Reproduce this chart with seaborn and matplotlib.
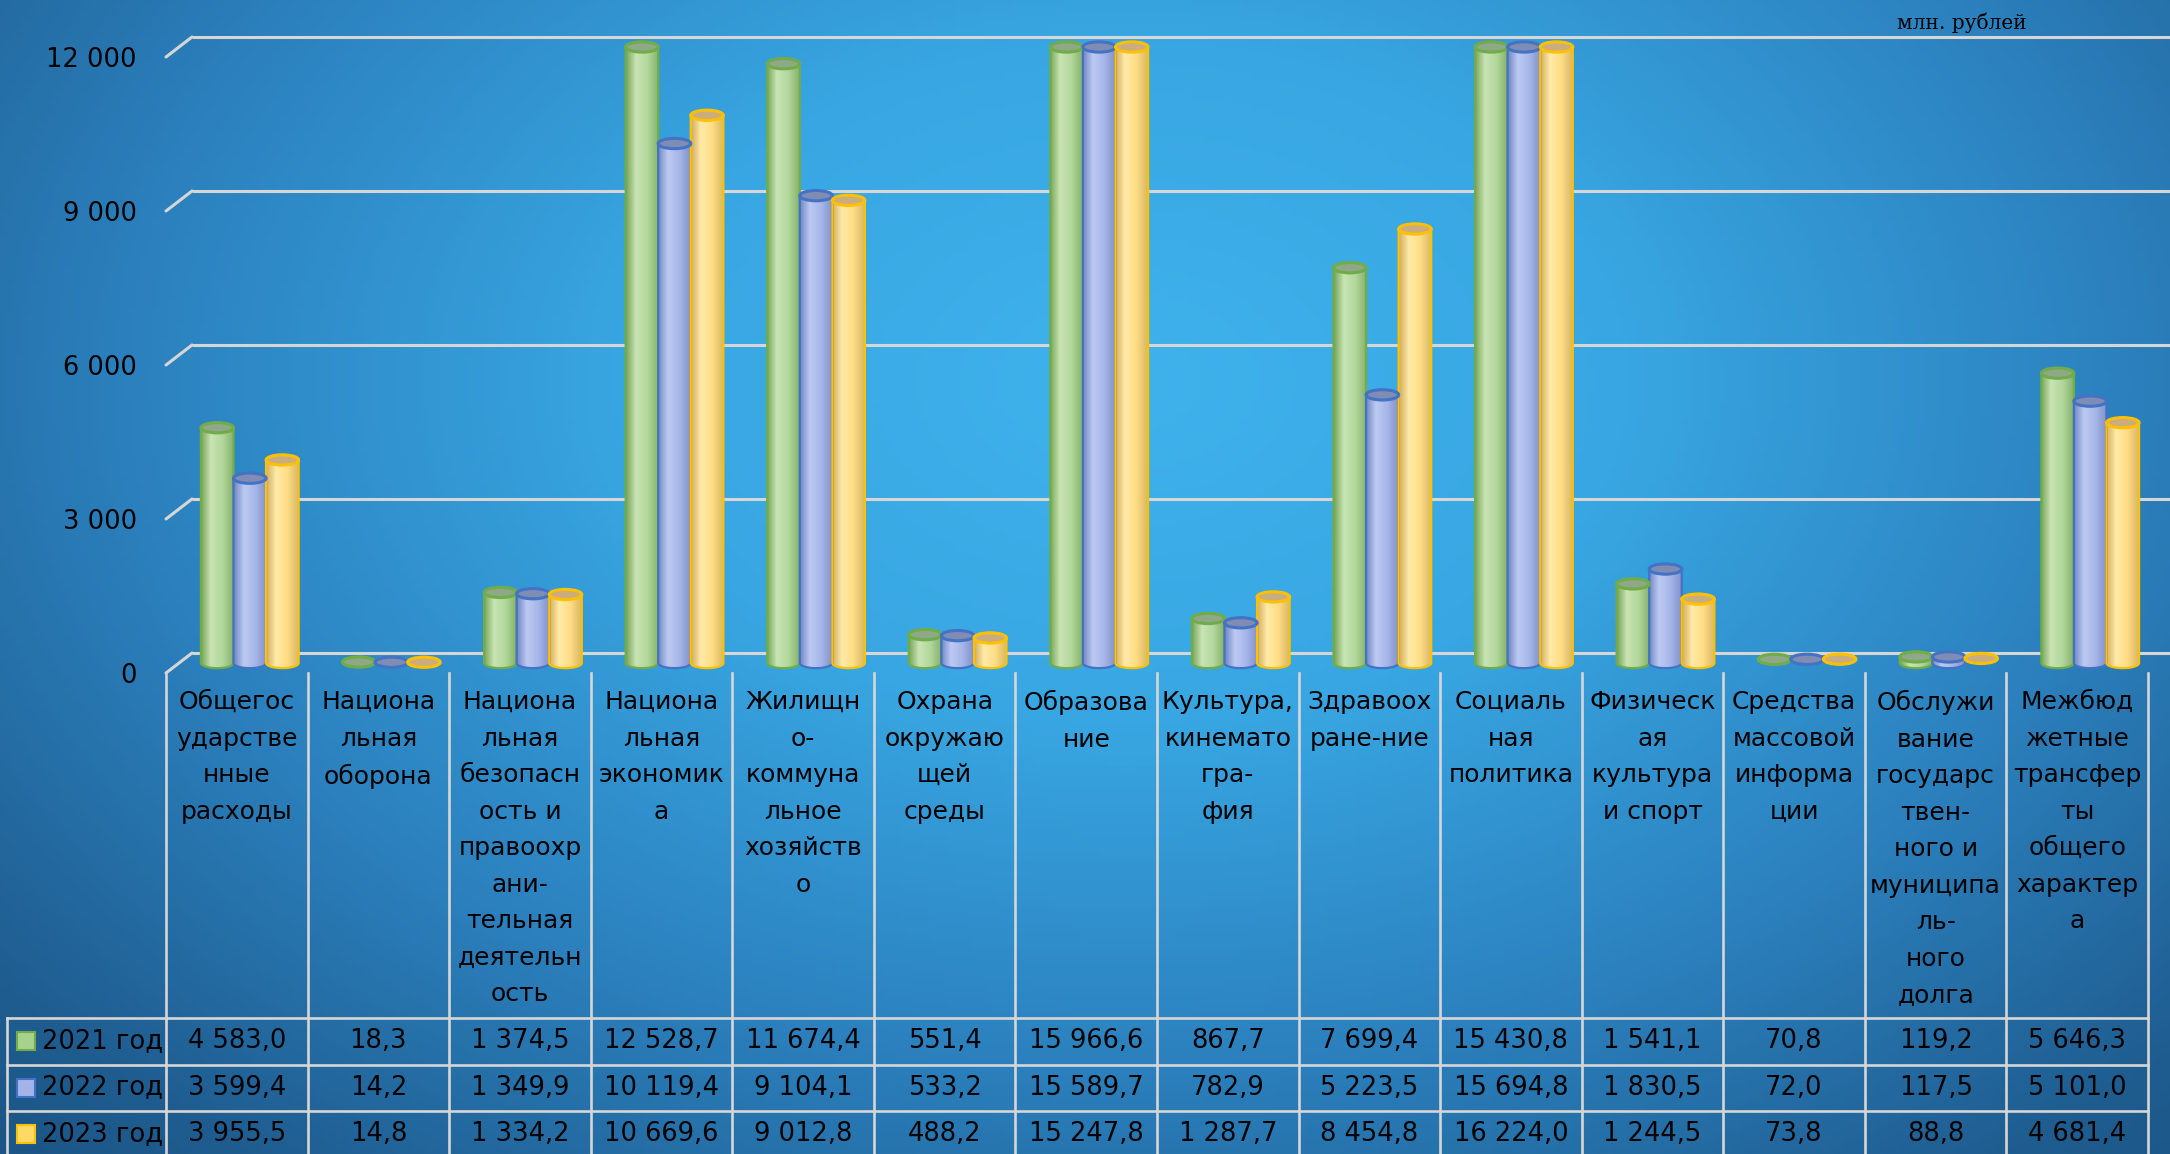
import numpy as np
import pandas as pd
import matplotlib
matplotlib.use("Agg")
import matplotlib.pyplot as plt
import seaborn as sns
from matplotlib.colors import LinearSegmentedColormap
from matplotlib.patches import Ellipse, PathPatch, ConnectionPatch, Rectangle
from matplotlib.path import Path

# ---- data (млн. рублей) ----
categories = [
    "Общегос\nударстве\nнные\nрасходы",
    "Национа\nльная\nоборона",
    "Национа\nльная\nбезопасн\nость и\nправоохр\nани-\nтельная\nдеятельн\nость",
    "Национа\nльная\nэкономик\nа",
    "Жилищн\nо-\nкоммуна\nльное\nхозяйств\nо",
    "Охрана\nокружаю\nщей\nсреды",
    "Образова\nние",
    "Культура,\nкинемато\nгра-\nфия",
    "Здравоох\nране-ние",
    "Социаль\nная\nполитика",
    "Физическ\nая\nкультура\nи спорт",
    "Средства\nмассовой\nинформа\nции",
    "Обслужи\nвание\nгосударс\nтвен-\nного и\nмуниципа\nль-\nного\nдолга",
    "Межбюд\nжетные\nтрансфер\nты\nобщего\nхарактер\nа",
]
years = ["2021 год", "2022 год", "2023 год"]
v2021 = [4583.0, 18.3, 1374.5, 12528.7, 11674.4, 551.4, 15966.6, 867.7, 7699.4, 15430.8, 1541.1, 70.8, 119.2, 5646.3]
v2022 = [3599.4, 14.2, 1349.9, 10119.4, 9104.1, 533.2, 15589.7, 782.9, 5223.5, 15694.8, 1830.5, 72.0, 117.5, 5101.0]
v2023 = [3955.5, 14.8, 1334.2, 10669.6, 9012.8, 488.2, 15247.8, 1287.7, 8454.8, 16224.0, 1244.5, 73.8, 88.8, 4681.4]
y_ticks = [0, 3000, 6000, 9000, 12000]
y_max = 12000

fills = ["#a9d18e", "#a4b4e6", "#ffd966"]
edges = ["#70ad47", "#4472c4", "#ffc000"]
tops = ["#8fa888", "#7f8db5", "#c9ad7e"]
bodies = [
    ["#7aa65c", "#c8e4b3", "#b3d79d", "#86b16a"],
    ["#7488c9", "#bccaf2", "#a6b6e8", "#8191cc"],
    ["#d2ae5e", "#ffeaa8", "#ffdd85", "#d8b766"],
]

df = pd.DataFrame({"cat": categories * 3,
                   "year": np.repeat(years, len(categories)),
                   "value": v2021 + v2022 + v2023})
df["shown"] = df["value"].clip(upper=y_max)

W, H = 2170, 1154
fig = plt.figure(figsize=(W / 100, H / 100), dpi=100)

# background: radial blue gradient
bg = fig.add_axes([0, 0, 1, 1])
gx, gy = np.meshgrid(np.linspace(0, 1, 400), np.linspace(0, 1, 220))
r = np.sqrt(((gx - 0.52) / 0.66) ** 2 + ((gy - 0.33) / 0.85) ** 2)
bg_cmap = LinearSegmentedColormap.from_list(
    "bg", [(0, "#3fb2ec"), (0.27, "#38a6e2"), (0.54, "#2b80bd"), (0.77, "#1f5d90"), (1.0, "#174a77")])
bg.imshow(np.clip(r, 0, 1.3), cmap=bg_cmap, aspect="auto", extent=(0, 1, 0, 1), vmin=0, vmax=1.3)
bg.axis("off")

ppu = 616 / 12000
YLO, YHI = -400, 12400


def plane(x_left, x_right, y_zero):
    bot = y_zero - YLO * ppu
    top = y_zero - YHI * ppu
    ax = fig.add_axes([x_left / W, 1 - bot / H, (x_right - x_left) / W, (bot - top) / H])
    ax.set_ylim(YLO, YHI)
    ax.patch.set_alpha(0)
    return ax


# back wall gridlines
back = plane(192, 2170, 653)
back.set_xlim(0, 1)
back.axis("off")
for t in y_ticks:
    back.plot([0, 1], [t, t], color="#d6d6d6", lw=2.2, solid_capstyle="butt")

# front plane: tick labels and diagonal stubs
front = plane(166, 2148, 673)
front.set_xlim(-0.5, 13.5)
for s in front.spines.values():
    s.set_visible(False)
front.set_xticks([])
front.set_yticks(y_ticks)
front.set_yticklabels([f"{t:,}".replace(",", " ") for t in y_ticks])
front.tick_params(axis="y", length=0, pad=21, labelsize=18.5)
for t in y_ticks:
    con = ConnectionPatch(xyA=(-0.5, t), coordsA=front.transData, xyB=(0, t), coordsB=back.transData,
                          color="#d6d6d6", lw=2.2)
    fig.add_artist(con)

# cylinder bars
bars = plane(179, 2161, 663)
sns.barplot(data=df, x="cat", y="shown", hue="year", palette=fills, width=0.69,
            saturation=1, legend=False, ax=bars)
bars.set_autoscale_on(False)
bars.set_xlim(-0.5, 13.5)
bars.set_ylim(YLO, YHI)
bars.axis("off")

eh = 200
for k, cont in enumerate(bars.containers):
    cmap = LinearSegmentedColormap.from_list(f"b{k}", list(zip([0, 0.3, 0.65, 1], bodies[k])))
    for rect in cont.patches:
        x0, w, h = rect.get_x(), rect.get_width(), rect.get_height()
        rect.set_visible(False)
        xc = x0 + w / 2
        if h > eh / 2:
            th = np.linspace(np.pi, 2 * np.pi, 40)
            verts = [(x0, h)] + list(zip(xc + w / 2 * np.cos(th), eh / 2 * np.sin(th))) + [(x0 + w, h), (x0, h)]
            codes = [Path.MOVETO] + [Path.LINETO] * (len(verts) - 2) + [Path.CLOSEPOLY]
            body = PathPatch(Path(verts, codes), fc="none", ec=edges[k], lw=1.6, zorder=3 + k * 0.01)
            bars.add_patch(body)
            im = bars.imshow(np.linspace(0, 1, 64)[None, :], cmap=cmap, aspect="auto",
                             extent=(x0, x0 + w, -eh / 2, h), zorder=2 + k * 0.01)
            im.set_clip_path(body)
        bars.add_patch(Ellipse((xc, h), w, eh, fc=tops[k], ec=edges[k], lw=2.2, zorder=4 + k * 0.01))

# data table
tab = fig.add_axes([0, 0, 1, 1])
tab.set_xlim(0, W)
tab.set_ylim(H, 0)
tab.axis("off")
tab.patch.set_alpha(0)
x_left, x_right = 166, 2148
cw = (x_right - x_left) / len(categories)
line_kw = dict(color="#d6d6d6", lw=1.9)
for i in range(len(categories) + 1):
    tab.plot([x_left + i * cw] * 2, [673, H], **line_kw)
tab.plot([7, 7], [1018, H], **line_kw)
row_lines = [1018, 1064.5, 1111]
for yl in row_lines:
    tab.plot([7, x_right], [yl, yl], **line_kw)

for i, lab in enumerate(categories):
    tab.text(x_left + (i + 0.5) * cw, 690, lab, ha="center", va="top", fontsize=18,
             linespacing=1.66, color="black")

series = [v2021, v2022, v2023]
for r_i, (yr, vals) in enumerate(zip(years, series)):
    yc = row_lines[r_i] + 23
    tab.add_patch(Rectangle((17, yc - 9), 18, 18, fc=fills[r_i], ec=edges[r_i], lw=1.5))
    tab.text(42, yc, yr, ha="left", va="center", fontsize=18.5)
    for i, v in enumerate(vals):
        txt = f"{v:,.1f}".replace(",", " ").replace(".", ",")
        tab.text(x_left + (i + 0.5) * cw, yc, txt, ha="center", va="center", fontsize=18.5)

tab.text(1897, 23, "млн. рублей", ha="left", va="center", fontsize=14.5, family="DejaVu Serif")

fig.savefig("out.png", dpi=100)
